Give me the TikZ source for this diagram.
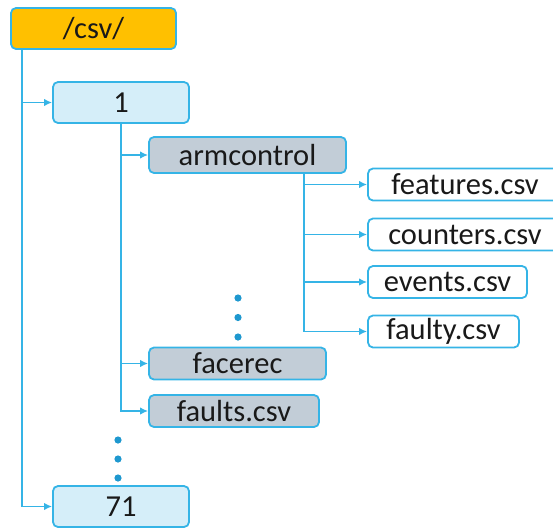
\documentclass[tikz,border=0pt]{standalone}
\usepackage{fontspec}
\setmainfont{Carlito}
\usetikzlibrary{arrows.meta, positioning}
\usepackage{xcolor}

\definecolor{treeblue}{HTML}{35B4E6}
\definecolor{dotblue}{HTML}{1E98CF}
\definecolor{rootfill}{HTML}{FFC000}
\definecolor{folderfill}{HTML}{D5EEF9}
\definecolor{subfill}{HTML}{C2CDD7}

\begin{document}
\begin{tikzpicture}[
    x=1pt,
    y=-1pt,
    >=Latex,
    box/.style={rectangle, rounded corners=5pt, draw=treeblue, line width=1.8pt, inner sep=0pt,
        text=black!90, font=\fontsize{30.5}{35}\selectfont},
    root/.style={box, fill=rootfill, minimum width=165pt, minimum height=41pt},
    folder/.style={box, fill=folderfill, minimum width=136pt, minimum height=41pt},
    subfolder/.style={box, fill=subfill, minimum height=32pt},
    csvfile/.style={box, fill=white, minimum height=32pt},
    line/.style={-{Latex[length=8pt, width=7.5pt]}, draw=treeblue, line width=1.8pt},
    dot/.style={fill=dotblue}
]
\clip (0, 0) rectangle (553, 528);

\node[root] (csv) at (93.5, 28.5) {/csv/};
\node[folder] (one) at (121, 102.5) {1};
\node[subfolder, minimum width=197pt, minimum height=36pt] (arm) at (247.5, 155) {armcontrol};
\node[csvfile, minimum width=194pt] (features) at (465, 184.5) {features.csv};
\node[csvfile, minimum width=194pt] (counters) at (465, 234.5) {counters.csv};
\node[csvfile, minimum width=159pt] (events) at (447.5, 282) {events.csv};
\node[csvfile, minimum width=151pt] (faulty) at (443.5, 331.5) {faulty.csv};
\node[subfolder, minimum width=177pt] (facerec) at (237.5, 363.5) {facerec};
\node[subfolder, minimum width=170pt] (faults) at (234, 411) {faults.csv};
\node[folder] (last) at (121, 506.5) {71};

% top level
\draw[line] ([xshift=12pt]csv.south west) |- (one.west);
\draw[line] ([xshift=12pt]csv.south west) |- (last.west);

% inside 1
\draw[line] (one.south) |- (arm.west);
\draw[line] (one.south) |- (facerec.west);
\draw[line] (one.south) |- (faults.west);

% inside armcontrol
\draw[line] ([xshift=56.5pt]arm.south) |- (features.west);
\draw[line] ([xshift=56.5pt]arm.south) |- (counters.west);
\draw[line] ([xshift=56.5pt]arm.south) |- (events.west);
\draw[line] ([xshift=56.5pt]arm.south) |- (faulty.west);

% skipped entries
\foreach \y in {298, 317.5, 337}
    \fill[dot] (238, \y) circle (3.6pt);
\foreach \y in {440, 459, 478}
    \fill[dot] (118, \y) circle (3.6pt);
\end{tikzpicture}
\end{document}
